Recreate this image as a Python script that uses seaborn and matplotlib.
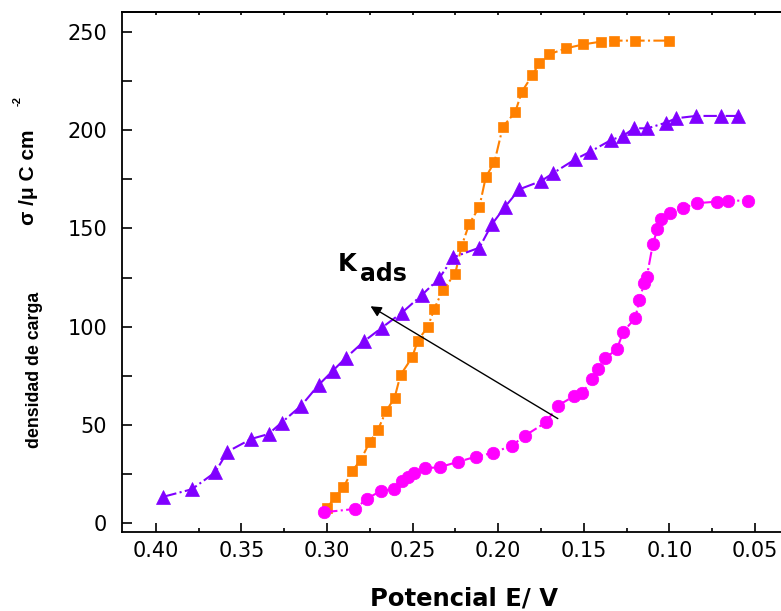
"""
Charge density vs potential for three adsorption curves
"""

import matplotlib
matplotlib.use("Agg")
import matplotlib.pyplot as plt
import seaborn as sns
from matplotlib.ticker import MultipleLocator

# orange squares
sq_x = [0.300, 0.2953, 0.2905, 0.2852, 0.2803, 0.2752, 0.2703, 0.2655, 0.2606,
        0.2571, 0.2503, 0.2470, 0.2411, 0.2373, 0.2324, 0.2252, 0.2213, 0.2170,
        0.2110, 0.2073, 0.2022, 0.1973, 0.1901, 0.1862, 0.1800, 0.1761, 0.1701,
        0.1603, 0.1502, 0.1399, 0.1323, 0.1200, 0.1002]
sq_y = [7.9, 13.2, 18.3, 26.8, 32.2, 41.2, 47.5, 57.1, 63.7,
        75.4, 84.4, 92.9, 100.0, 109.2, 118.7, 126.8, 141.2, 152.2,
        161.0, 176.0, 183.8, 201.7, 209.1, 219.5, 228.0, 234.0, 238.6,
        241.6, 243.6, 245.0, 245.5, 245.5, 245.5]

# violet triangles
tri_x = [0.3956, 0.3790, 0.3654, 0.3582, 0.3443, 0.3342, 0.3266, 0.3151, 0.3050,
         0.2966, 0.2890, 0.2782, 0.2680, 0.2563, 0.2446, 0.2345, 0.2262, 0.2110,
         0.2037, 0.1960, 0.1876, 0.1749, 0.1681, 0.1551, 0.1463, 0.1340, 0.1272,
         0.1206, 0.1128, 0.1019, 0.0961, 0.0844, 0.0700, 0.0600]
tri_y = [13.5, 17.3, 25.9, 36.4, 42.9, 45.4, 51.2, 59.8, 70.3,
         77.6, 84.2, 92.7, 99.5, 107.1, 116.1, 124.6, 135.3, 140.2,
         152.1, 161.0, 169.9, 174.1, 178.0, 185.1, 189.0, 195.0, 197.0,
         200.9, 200.9, 203.8, 206.0, 207.2, 207.2, 207.2]

# magenta circles
cir_x = [0.3017, 0.2836, 0.2768, 0.2684, 0.2608, 0.2563, 0.2525, 0.2491, 0.2427,
         0.2343, 0.2233, 0.2129, 0.2028, 0.1921, 0.1843, 0.1720, 0.1652, 0.1555,
         0.1508, 0.1450, 0.1418, 0.1376, 0.1307, 0.1269, 0.1200, 0.1175, 0.1148,
         0.1132, 0.1097, 0.1070, 0.1048, 0.0996, 0.0922, 0.0840, 0.0723, 0.0655,
         0.0542]
cir_y = [5.6, 7.3, 12.4, 16.6, 17.4, 21.5, 23.4, 25.4, 28.0,
         28.5, 31.3, 33.9, 35.9, 39.5, 44.6, 51.4, 59.8, 64.8,
         66.4, 73.2, 78.3, 83.9, 88.5, 97.5, 104.3, 113.6, 122.0,
         125.4, 141.9, 149.7, 154.6, 157.7, 160.2, 162.8, 163.6, 164.1,
         164.1]

x_ticks = [0.40, 0.35, 0.30, 0.25, 0.20, 0.15, 0.10, 0.05]
x_tick_labels = ["0.40", "0.35", "0.30", "0.25", "0.20", "0.15", "0.10", "0.05"]
y_ticks = [0, 50, 100, 150, 200, 250]

sns.set_style("ticks")
plt.rcParams['font.family'] = ['DejaVu Sans']
plt.rcParams.update({
    "text.color": "black",
    "axes.labelcolor": "black",
    "axes.edgecolor": "black",
    "xtick.color": "black",
    "ytick.color": "black",
})

fig = plt.figure(figsize=(7.81, 6.11), dpi=100)
ax = fig.add_axes([0.1558, 0.1288, 0.8442, 0.852])

series = [
    (sq_x, sq_y, "#FF8000", "s", 7.7),
    (tri_x, tri_y, "#8000FF", "^", 10),
    (cir_x, cir_y, "#FF00FF", "o", 9),
]
for xs, ys, col, mk, ms in series:
    sns.lineplot(x=xs, y=ys, ax=ax, color=col, marker=mk, markersize=ms,
                 markeredgecolor=col, markeredgewidth=0.5, linestyle="-.",
                 linewidth=1.5, sort=False, estimator=None)

ax.set_xlim(0.42, 0.0348)
ax.set_ylim(-4.6, 260.2)

ax.set_xticks(x_ticks)
ax.set_xticklabels(x_tick_labels)
ax.xaxis.set_minor_locator(MultipleLocator(0.025))
ax.set_yticks(y_ticks)
ax.yaxis.set_minor_locator(MultipleLocator(25))

ax.tick_params(axis="x", which="major", direction="in", length=6.5, width=1.2,
               labelsize=15, pad=6.5, top=False, colors="black")
ax.tick_params(axis="x", which="minor", direction="in", length=3, width=1.2,
               top=False, colors="black")
ax.tick_params(axis="y", which="both", direction="in", length=7, width=1.2,
               labelsize=15, pad=10.5, right=False, colors="black")

# short ticks along the top edge
top = ax.secondary_xaxis("top")
top.set_xticks(x_ticks)
top.xaxis.set_minor_locator(MultipleLocator(0.025))
top.tick_params(which="both", direction="in", length=2.2, width=1.2,
                labeltop=False, colors="black")
top.spines["top"].set_linewidth(1.3)
top.spines["top"].set_color("black")

for side in ["left", "bottom", "top"]:
    ax.spines[side].set_linewidth(1.3)
    ax.spines[side].set_color("black")
ax.spines["right"].set_visible(False)

# arrow and K_ads label
ax.annotate("", xy=(0.276, 111.1), xytext=(0.1638, 52.5),
            arrowprops=dict(arrowstyle="-|>", color="black", lw=1,
                            mutation_scale=16))
ax.text(0.2935, 128.3, "K", fontsize=17.5, fontweight="bold",
        va="baseline", ha="left", color="black")
ax.text(0.2810, 123.2, "ads", fontsize=17, fontweight="bold",
        va="baseline", ha="left", color="black")

# axis titles
fig.text(0.594, 6.0 / 611, "Potencial E/ V", fontsize=17.5, fontweight="bold",
         ha="center", va="baseline", color="black")
fig.text(0.037, 0.7095, "\u03c3 /\u03bc C cm", fontsize=15, fontweight="bold",
         rotation=90, ha="center", va="center", color="black",
         family=["Liberation Sans", "DejaVu Sans"])
fig.text(0.0224, 0.834, "-2", fontsize=8, fontweight="bold",
         rotation=90, ha="center", va="center", color="black",
         family=["Liberation Sans", "DejaVu Sans"])
fig.text(0.0442, 0.3944, "densidad de carga", fontsize=12.8, fontweight="bold",
         rotation=90, ha="center", va="center", color="black",
         family=["Liberation Sans", "DejaVu Sans"])

fig.savefig("out.png", dpi=100)
plt.close(fig)
